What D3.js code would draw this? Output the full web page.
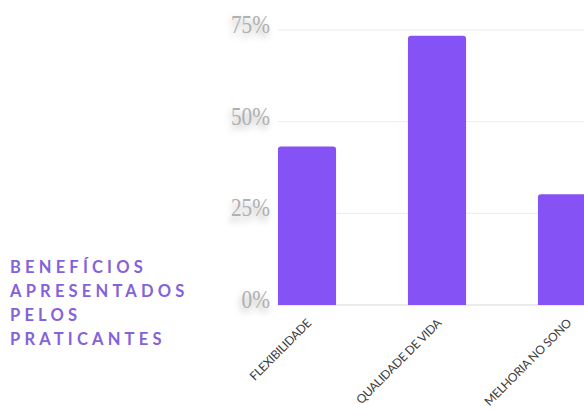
<!DOCTYPE html>
<html><head><meta charset="utf-8">
<script src="https://cdn.jsdelivr.net/npm/d3@7"></script>
<style>
body{margin:0;background:#fff;}
</style>
</head><body>
<svg id="c" width="584" height="410"></svg>
<script>
const categories = ["FLEXIBILIDADE", "QUALIDADE DE VIDA", "MELHORIA NO SONO"];
const values = [43.2, 73.4, 30.2];
const yTicks = [0, 25, 50, 75];
const titleLines = ["BENEFÍCIOS", "APRESENTADOS", "PELOS", "PRATICANTES"];

const svg = d3.select("#c");
const x = d3.scaleBand().domain(categories).range([242, 632]).paddingInner(0.553).paddingOuter(0.2765);
const y = d3.scaleLinear().domain([0, 75]).range([305, 30]);

// gridlines
svg.append("g").selectAll("line").data(yTicks).join("line")
  .attr("x1", 278).attr("x2", 584)
  .attr("y1", d => y(d)).attr("y2", d => y(d))
  .attr("stroke", d => d === 0 ? "#d8d8d8" : "#ececec").attr("stroke-width", 1);

// y tick labels
svg.append("g").selectAll("text").data(yTicks).join("text")
  .attr("transform", d => `translate(270,${y(d) + 3}) scale(0.82,1)`)
  .attr("text-anchor", "end")
  .attr("font-family", "Liberation Serif")
  .attr("font-size", 26)
  .attr("fill", "#b0b0b0")
  .style("text-shadow", "-2px 4px 8px rgba(0,0,0,0.3)")
  .text(d => d + "%");

// bars with rounded tops
const r = 3;
svg.append("g").selectAll("path").data(categories).join("path")
  .attr("fill", "#8452f5")
  .attr("d", (c, i) => {
    const x0 = x(c), w = x.bandwidth(), y0 = y(values[i]), yb = y(0);
    return `M${x0},${yb}V${y0 + r}Q${x0},${y0} ${x0 + r},${y0}H${x0 + w - r}Q${x0 + w},${y0} ${x0 + w},${y0 + r}V${yb}Z`;
  });

// x labels
svg.append("g").selectAll("text").data(categories).join("text")
  .attr("transform", c => `translate(${x(c) + x.bandwidth() / 2 + 5},${324}) rotate(-45)`)
  .attr("text-anchor", "end")
  .attr("font-family", "Lato")
  .attr("font-size", 12)
  .attr("letter-spacing", -0.3)
  .attr("fill", "#3a3a3a")
  .text(c => c);

// title
svg.append("g").selectAll("text").data(titleLines).join("text")
  .attr("x", 10).attr("y", (d, i) => 273 + i * 24)
  .attr("font-family", "Lato")
  .attr("font-weight", 700)
  .attr("font-size", 16.5)
  .attr("letter-spacing", 4.2)
  .attr("fill", "#8462d9")
  .text(d => d);
</script>
</body></html>
